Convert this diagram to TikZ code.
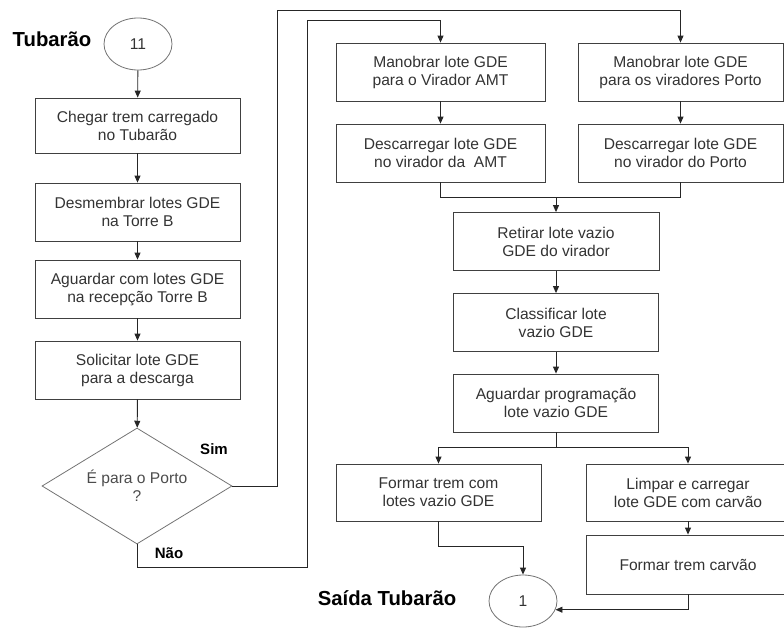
\documentclass[tikz,border=0pt]{standalone}
\usepackage{fontspec}
\setmainfont{Liberation Sans}
\usetikzlibrary{arrows.meta,shapes.geometric}

\tikzset{
  passo/.style={draw=black!75, line width=0.8pt, text=black!80, align=center,
    minimum width=205pt, minimum height=58pt, inner sep=2pt,
    font=\fontsize{15.6}{18}\selectfont},
  conector/.style={ellipse, draw=black!55, line width=0.8pt, text=black!80,
    minimum width=68pt, minimum height=52pt, inner sep=0pt,
    font=\fontsize{15.6}{18}\selectfont},
  decisao/.style={diamond, draw=black!55, line width=0.8pt, text=black!70,
    align=center, aspect=1.6, inner sep=0pt, minimum width=190pt,
    minimum height=116pt, font=\fontsize{15.6}{18}\selectfont},
  seta/.style={-{Triangle[length=7pt,width=6pt]}, line width=0.9pt, black!85},
  linha/.style={line width=0.9pt, black!85},
  rotulo/.style={font=\bfseries\fontsize{15}{18}\selectfont},
  titulo/.style={font=\bfseries\fontsize{20.3}{24}\selectfont}
}

\begin{document}
\begin{tikzpicture}[x=1pt,y=-1pt]
  \useasboundingbox (0,0) rectangle (784,629);
  \clip (0,0) rectangle (784,629);
  % coluna da esquerda: chegada no Tubarao
  \node[titulo] (tTub) at (52,39) {Tubarão};
  \node[conector] (c11) at (138,44) {11};
  \node[passo, minimum height=55pt] (chegar) at (137.5,125.5) {Chegar trem carregado\\no Tubarão};
  \node[passo] (desm) at (137.5,212) {Desmembrar lotes GDE\\na Torre B};
  \node[passo] (aguard) at (137.5,289) {Aguardar com lotes GDE\\na recepção Torre B};
  \node[passo] (solic) at (137.5,370) {Solicitar lote GDE\\para a descarga};
  \node[decisao] (porto) at (137,486) {É para o Porto\\?};
  \node[rotulo] (lSim) at (214,449) {Sim};
  \node[rotulo] (lNao) at (169,553) {Não};

  % coluna da direita: viradores
  \node[passo, minimum width=209pt] (manAmt) at (440.5,72) {Manobrar lote GDE\\para o Virador AMT};
  \node[passo] (manPorto) at (680.5,72) {Manobrar lote GDE\\para os viradores Porto};
  \node[passo, minimum width=209pt] (descAmt) at (440.5,153) {Descarregar lote GDE\\no virador da\ \ AMT};
  \node[passo] (descPorto) at (680.5,153) {Descarregar lote GDE\\no virador do Porto};
  \node[passo, minimum width=206pt] (retirar) at (556,241.5) {Retirar lote vazio\\GDE do virador};
  \node[passo] (classif) at (556,322.5) {Classificar lote\\vazio GDE};
  \node[passo] (aguardProg) at (556,403) {Aguardar programação\\lote vazio GDE};
  \node[passo, minimum height=57pt] (formVaz) at (438.5,492.5) {Formar trem com\\lotes vazio GDE};
  \node[passo, minimum width=204pt, minimum height=57pt] (limpar) at (688,492.5) {Limpar e carregar\\lote GDE com carvão};
  \node[passo, minimum width=204pt, minimum height=59pt] (formCarv) at (688,564.5) {Formar trem carvão};
  \node[conector] (c1) at (523,601) {1};
  \node[titulo] (tSaida) at (387,598) {Saída Tubarão};

  \coordinate (sim) at (277,10);
  \coordinate (nao1) at (307,567);
  \coordinate (nao2) at (307,20);
  \coordinate (junta) at (556,197.5);
  \coordinate (divide) at (556,447.5);

  \draw[seta] (c11) -- (chegar);
  \draw[seta] (chegar) -- (desm);
  \draw[seta] (desm) -- (aguard);
  \draw[seta] (aguard) -- (solic);
  \draw[seta] (solic) -- (porto);
  \draw[seta] (porto.east) -| (sim) -| (manPorto.north);
  \draw[seta] (porto.south) |- (nao1) -- (nao2) -| (manAmt.north);
  \draw[seta] (manAmt) -- (descAmt);
  \draw[seta] (manPorto) -- (descPorto);
  \draw[linha] (descAmt.south) |- (junta) -| (descPorto.south);
  \draw[seta] (junta) -- (retirar.north);
  \draw[seta] (retirar) -- (classif);
  \draw[seta] (classif) -- (aguardProg);
  \draw[linha] (aguardProg.south) -- (divide);
  \draw[seta] (divide) -| (formVaz.north);
  \draw[seta] (divide) -| (limpar.north);
  \draw[seta] (limpar) -- (formCarv);
  \draw[seta] (formVaz.south) -- ++(0,25) -| (c1.north);
  \draw[seta] (formCarv.south) |- (c1.-15);
\end{tikzpicture}
\end{document}
